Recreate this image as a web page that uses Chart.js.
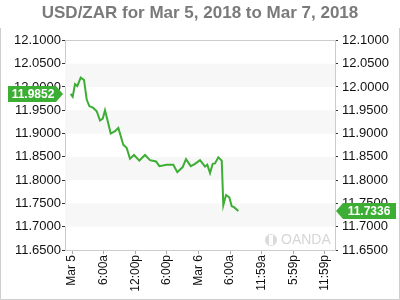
<!DOCTYPE html>
<html>
<head>
<meta charset="utf-8">
<script src="https://cdn.jsdelivr.net/npm/chart.js@4/dist/chart.umd.min.js"></script>
<style>
    html, body { margin: 0; padding: 0; background: #fff; }
    #wrap { width: 400px; height: 300px; position: relative; }
</style>
</head>
<body>
<div id="wrap"><canvas id="target" width="400" height="300"></canvas></div>
<script>
// data

const titleText = 'USD/ZAR for Mar 5, 2018 to Mar 7, 2018';

// hours since Mar 5 00:00
const hours = [
    -0.25, 0.13, 0.57, 1.0, 1.65, 2.28, 2.79, 3.28, 4.04, 4.69,
    5.31, 5.83, 6.26, 6.70, 7.34, 8.16, 8.79, 9.73, 10.38, 11.0,
    11.76, 12.77, 13.85, 14.8, 15.94, 16.57, 17.97, 19.22, 19.98, 21.0,
    21.63, 22.52, 23.34, 24.29, 25.24, 25.67, 26.19, 26.70, 27.13, 27.76,
    28.41, 28.71, 29.22, 29.85, 30.30, 30.74, 31.56
];

const rates = [
    11.9852, 11.979, 12.006, 12.002, 12.020, 12.015, 11.973, 11.959, 11.955, 11.948,
    11.928, 11.932, 11.950, 11.930, 11.900, 11.905, 11.912, 11.876, 11.869, 11.846,
    11.854, 11.842, 11.854, 11.843, 11.840, 11.830, 11.833, 11.833, 11.817, 11.828,
    11.845, 11.830, 11.835, 11.843, 11.829, 11.833, 11.815, 11.835, 11.836, 11.849,
    11.842, 11.746, 11.768, 11.763, 11.744, 11.742, 11.7336
];

const tickHours = [0, 6, 12, 18, 24, 30, 36, 42, 48];
const tickLabels = ['Mar 5', '6:00a', '12:00p', '6:00p', 'Mar 6', '6:00a', '11:59a', '5:59p', '11:59p'];

// bands drawn between these rate pairs
const bandLows = [12.0, 11.9, 11.8, 11.7];
const bandHighs = [12.05, 11.95, 11.85, 11.75];

const green = '#3bae33';
const fontFamily = "'Liberation Sans', Arial, sans-serif";

// plugins

const decor = {
    id: 'decor',
    beforeDatasetsDraw(chart){
        const {ctx, chartArea: a, scales} = chart;
        const y = scales.y;
        ctx.save();
        ctx.fillStyle = '#f7f7f7';
        bandLows.forEach((lo, i)=>{
            const top = y.getPixelForValue(bandHighs[i]);
            const bot = y.getPixelForValue(lo);
            ctx.fillRect(a.left, top, a.right - a.left, bot - top);
        });
        // top edge of the frame
        ctx.strokeStyle = '#cccccc';
        ctx.lineWidth = 1;
        ctx.beginPath();
        ctx.moveTo(a.left, Math.round(a.top) + 0.5);
        ctx.lineTo(a.right, Math.round(a.top) + 0.5);
        ctx.stroke();
        // watermark
        ctx.fillStyle = '#dadada';
        ctx.beginPath();
        ctx.arc(a.right - 64, a.bottom - 10, 6, 0, Math.PI*2);
        ctx.fill();
        ctx.fillStyle = '#fff';
        ctx.fillRect(a.right - 66, a.bottom - 15, 4, 10);
        ctx.fillStyle = '#d6d6d6';
        ctx.font = '14px ' + fontFamily;
        ctx.textBaseline = 'middle';
        ctx.textAlign = 'left';
        ctx.fillText('OANDA', a.right - 54, a.bottom - 10);
        ctx.restore();
    },
    afterDraw(chart){
        const {ctx, scales} = chart;
        const y = scales.y;
        ctx.save();
        // outer frame
        ctx.strokeStyle = '#cfcfcf';
        ctx.lineWidth = 1;
        ctx.beginPath();
        ctx.moveTo(0.5, 28);
        ctx.lineTo(0.5, 299.5);
        ctx.lineTo(399.5, 299.5);
        ctx.lineTo(399.5, 28);
        ctx.stroke();

        // price tags
        ctx.font = 'bold 12px ' + fontFamily;
        ctx.textBaseline = 'middle';
        ctx.textAlign = 'center';
        const first = rates[0], last = rates[rates.length-1];

        let py = Math.round(y.getPixelForValue(first));
        ctx.fillStyle = green;
        ctx.beginPath();
        ctx.moveTo(8, py - 8);
        ctx.lineTo(56, py - 8);
        ctx.lineTo(63, py);
        ctx.lineTo(56, py + 8);
        ctx.lineTo(8, py + 8);
        ctx.closePath();
        ctx.fill();
        ctx.fillStyle = '#fff';
        ctx.fillText(first.toFixed(4), 33, py + 1);

        py = Math.round(y.getPixelForValue(last));
        ctx.fillStyle = green;
        ctx.beginPath();
        ctx.moveTo(336, py);
        ctx.lineTo(343, py - 8);
        ctx.lineTo(396, py - 8);
        ctx.lineTo(396, py + 8);
        ctx.lineTo(343, py + 8);
        ctx.closePath();
        ctx.fill();
        ctx.fillStyle = '#fff';
        ctx.fillText(last.toFixed(4), 369, py + 1);
        ctx.restore();
    }
};

// render

function yAxis(position, pad){
    return {
        type: 'linear',
        position,
        min: 11.65,
        max: 12.1,
        afterFit(s){ s.width = 65; },
        afterBuildTicks(s){
            s.ticks = [];
            for(let i=0;i<=9;i++) s.ticks.push({value: +(11.65 + i*0.05).toFixed(2)});
        },
        ticks: {
            color: '#111',
            padding: pad,
            autoSkip: false,
            font: {family: fontFamily, size: 13},
            callback: v=>Number(v).toFixed(4)
        },
        grid: {
            drawOnChartArea: false,
            tickLength: 3,
            tickColor: '#333'
        },
        border: {color: '#cccccc'}
    };
}

const points = hours.map((h, i)=>({x: h, y: rates[i]}));

new Chart('target', {
    type: 'line',
    data: {
        datasets: [{
            data: points,
            borderColor: green,
            borderWidth: 2,
            pointRadius: 0,
            tension: 0,
            fill: false
        }]
    },
    options: {
        responsive: false,
        animation: false,
        layout: {padding: {top: 3, left: 0, right: 0, bottom: 0}},
        scales: {
            x: {
                type: 'linear',
                min: -1.33,
                max: 49.9,
                afterFit(s){ s.height = 50; },
                afterBuildTicks(s){
                    s.ticks = tickHours.map(v=>({value: v}));
                },
                ticks: {
                    color: '#111',
                    autoSkip: false,
                    maxRotation: 90,
                    minRotation: 90,
                    padding: 1,
                    font: {family: fontFamily, size: 12},
                    callback: (v, i)=>tickLabels[i]
                },
                grid: {
                    drawOnChartArea: false,
                    tickLength: 4,
                    tickColor: '#aaa'
                },
                border: {color: '#cccccc'}
            },
            y: yAxis('left', 1),
            y2: yAxis('right', 4)
        },
        plugins: {
            legend: {display: false},
            tooltip: {enabled: false},
            title: {
                display: true,
                text: titleText,
                color: '#7a7a7a',
                font: {family: fontFamily, size: 17, weight: 'bold'},
                padding: {top: 0, bottom: 17}
            }
        }
    },
    plugins: [decor]
});
</script>
</body>
</html>
